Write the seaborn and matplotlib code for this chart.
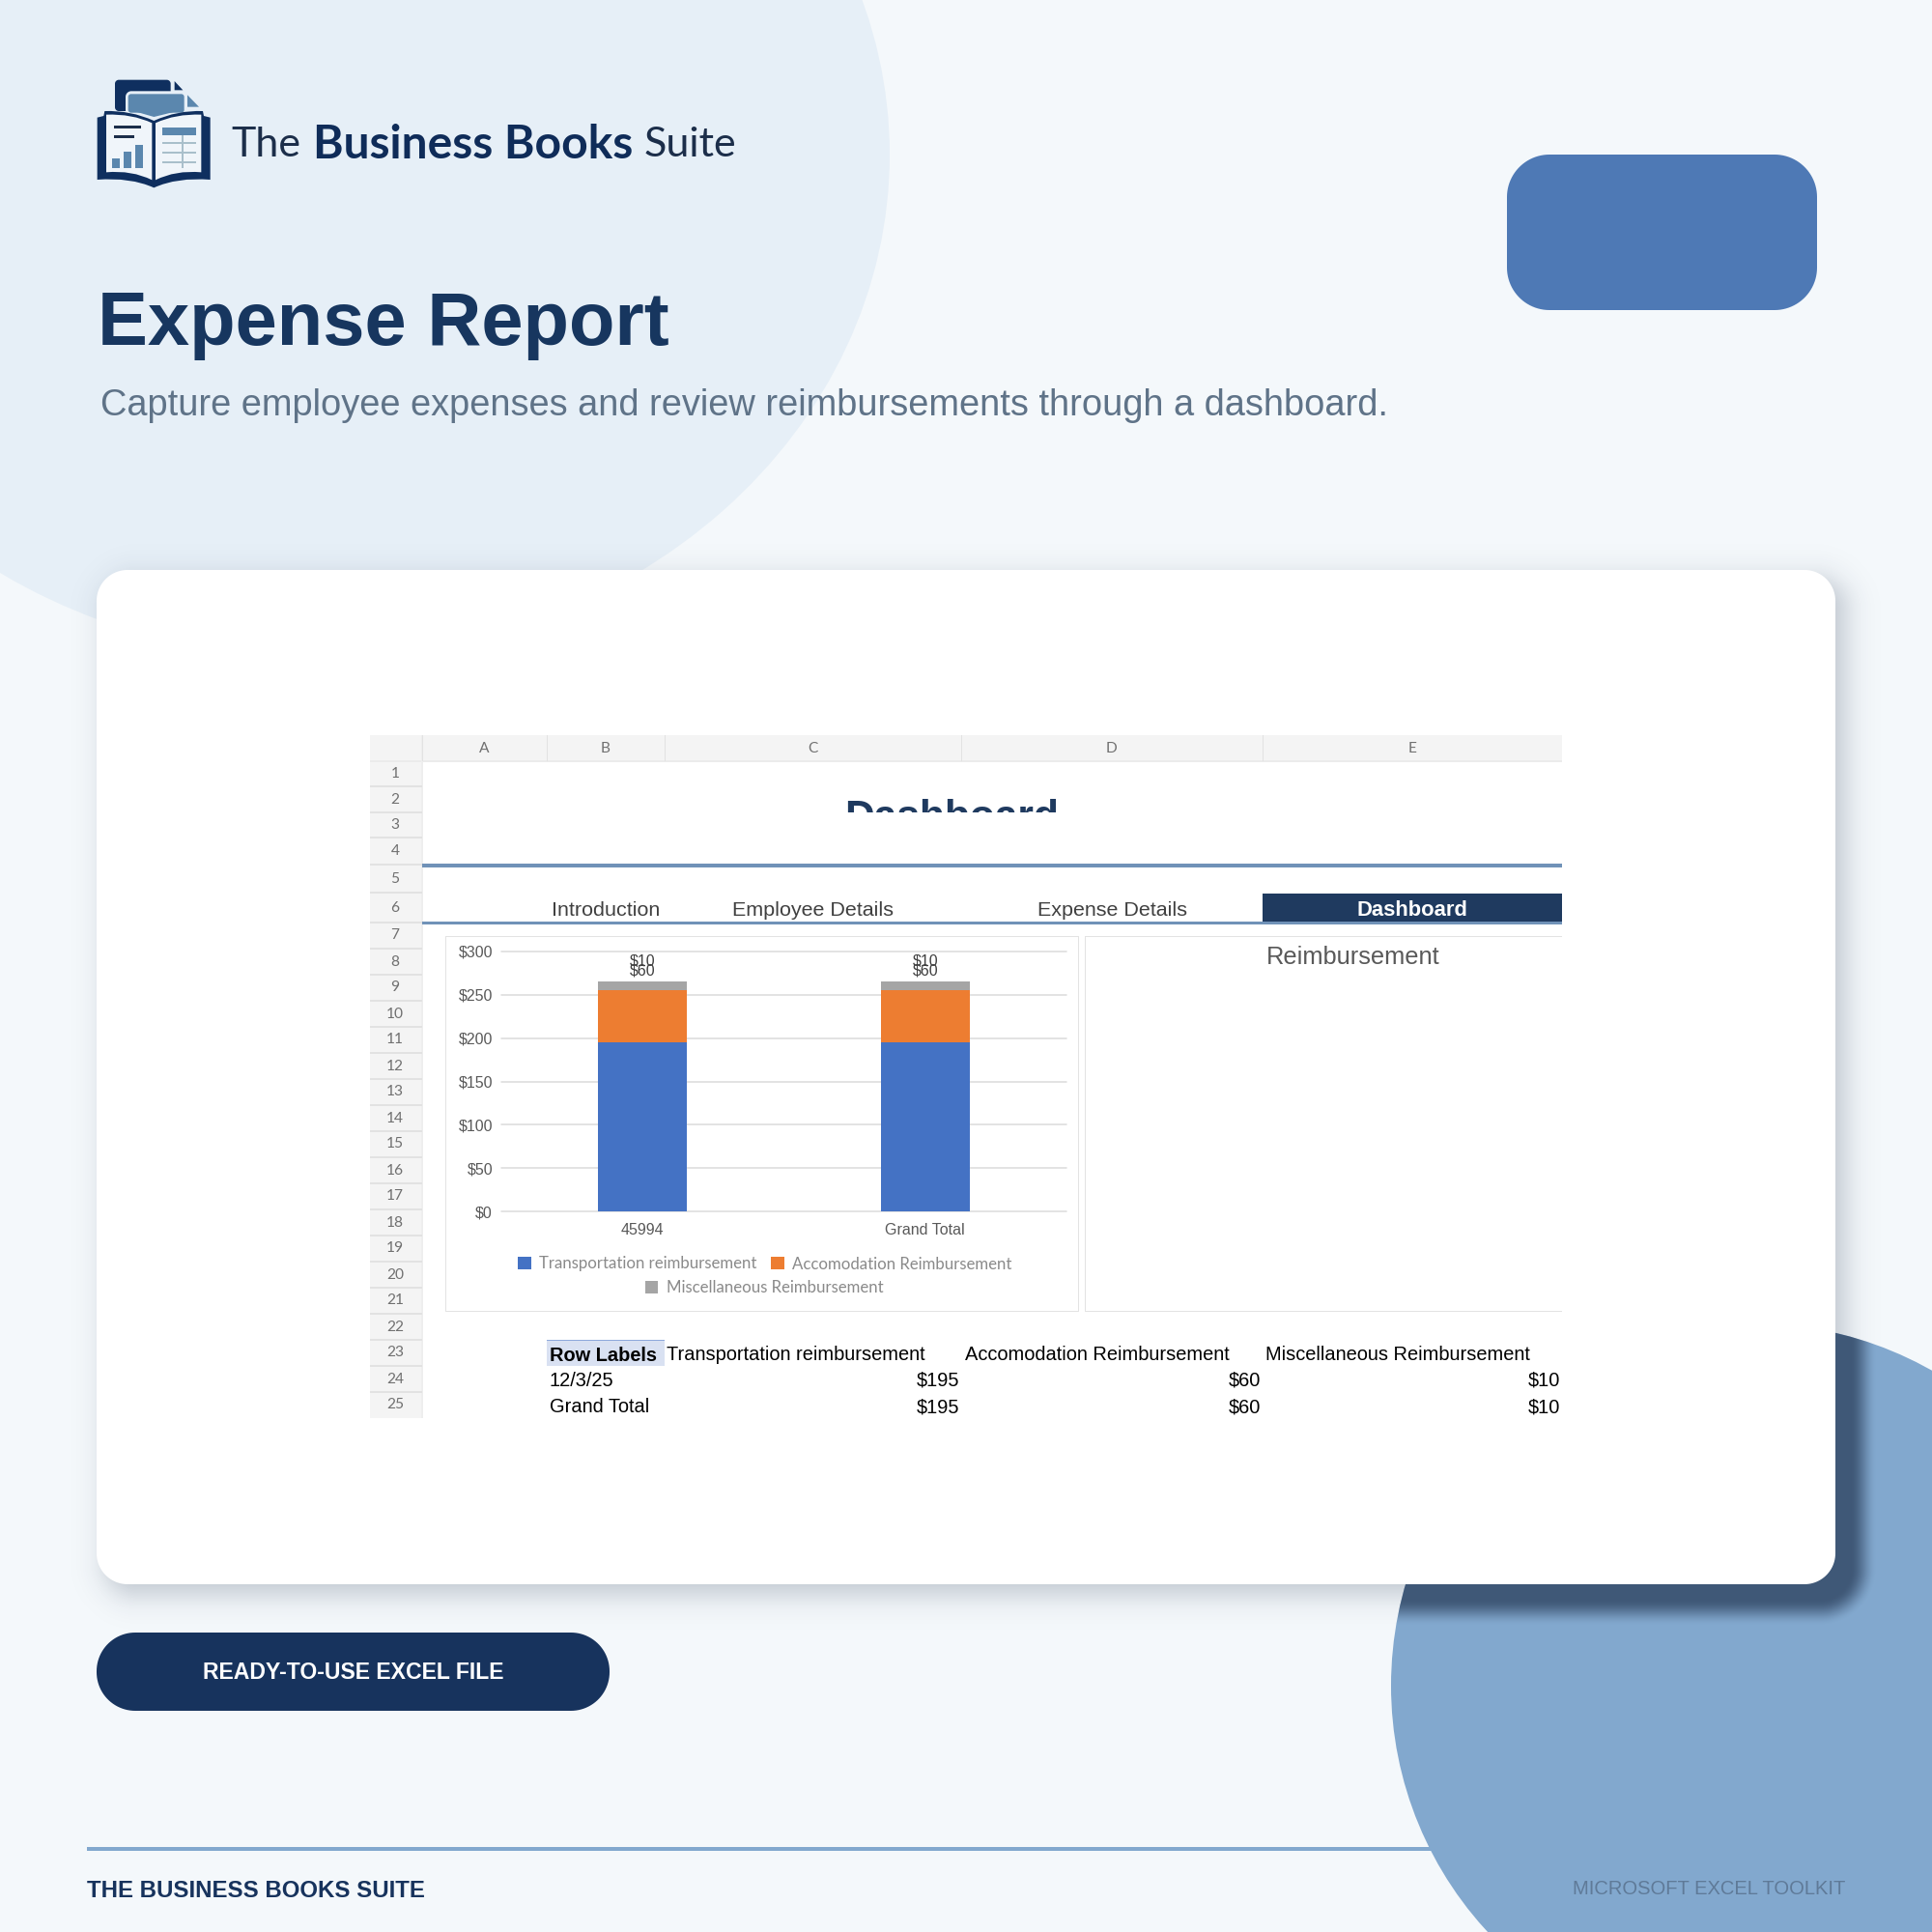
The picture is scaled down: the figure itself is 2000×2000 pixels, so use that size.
import numpy as np
import matplotlib
matplotlib.use('Agg')
import matplotlib.pyplot as plt
import seaborn as sns
from matplotlib.font_manager import FontProperties
from matplotlib.patches import Circle, Ellipse, PathPatch, Polygon, Rectangle
from matplotlib.path import Path

# chart values
categories = ['45994', 'Grand Total']
transport = [195, 195]
accomodation = [60, 60]
miscellaneous = [10, 10]
series_names = ['Transportation reimbursement', 'Accomodation Reimbursement', 'Miscellaneous Reimbursement']
series_colors = ['#4472C4', '#ED7D31', '#A5A5A5']
y_ticks = [0, 50, 100, 150, 200, 250, 300]

# spreadsheet texts
column_letters = ['A', 'B', 'C', 'D', 'E']
column_edges = [437, 566, 688, 995, 1307, 1617]
row_edges = [788, 814, 841, 867, 895, 924, 955, 982, 1009, 1036, 1063, 1090, 1117,
             1144, 1171, 1198, 1225, 1252, 1279, 1306, 1333, 1360, 1387, 1414, 1441, 1468]
nav_labels = ['Introduction', 'Employee Details', 'Expense Details']
table_rows = ['12/3/25', 'Grand Total']

NAVY = '#17335D'
SHEET_LINE = '#E2E2E2'
DPI = 200


def fs(px):
    # font size in points from a height in pixels
    return px * 72 / DPI


def box(x0, y0, x1, y1, color, z=5):
    canvas.add_patch(Rectangle((x0, y0), x1 - x0, y1 - y0, fc=color, ec='none', zorder=z))


def rounded(x0, y0, x1, y1, r, color, z=5):
    # true circular corners, FancyBboxPatch corners come out too square
    pts = []
    corners = [(x1 - r, y0 + r, -90), (x1 - r, y1 - r, 0), (x0 + r, y1 - r, 90), (x0 + r, y0 + r, 180)]
    for cx, cy, start in corners:
        t = np.radians(np.linspace(start, start + 90, 24))
        pts += list(zip(cx + r * np.cos(t), cy + r * np.sin(t)))
    canvas.add_patch(Polygon(pts, closed=True, fc=color, ec='none', zorder=z))


def label(x, y, s, px, color, family='Liberation Sans', weight='normal', ha='left', va='baseline', z=8):
    return canvas.text(x, y, s, fontsize=fs(px), color=color, family=family, weight=weight, ha=ha, va=va, zorder=z)


def rect_distance(xx, yy, x0, y0, x1, y1, r):
    qx = np.abs(xx - (x0 + x1) / 2) - (x1 - x0) / 2 + r
    qy = np.abs(yy - (y0 + y1) / 2) - (y1 - y0) / 2 + r
    outside = np.hypot(np.maximum(qx, 0), np.maximum(qy, 0))
    return outside + np.minimum(np.maximum(qx, qy), 0) - r


def shadow_image(alpha, z):
    img = np.zeros(alpha.shape + (4,))
    img[..., :3] = np.array([26, 43, 70]) / 255
    img[..., 3] = alpha
    return canvas.imshow(img, extent=(0, 2000, 2000, 0), aspect='auto', zorder=z, interpolation='nearest')


def draw_logo():
    def sx(v):
        return 80 + v / 3

    def sy(v):
        return 70 + v / 3

    def poly(pts, color, z=3):
        canvas.add_patch(Polygon([(sx(a), sy(b)) for a, b in pts], closed=True, fc=color, ec='none', zorder=z))

    def shape(verts, codes, color):
        path = Path([(sx(a), sy(b)) for a, b in verts], codes)
        canvas.add_patch(PathPatch(path, fc=color, ec='none', zorder=3))

    M, L, C, Z = Path.MOVETO, Path.LINETO, Path.CURVE3, Path.CLOSEPOLY
    dark = '#0F2F5F'
    mid = '#5B87AE'
    light = '#E6EFF7'
    rounded(sx(117), sy(38), sx(290), sy(135), 4, dark, 3)
    poly([(302, 42), (328, 70), (302, 70)], dark)
    rounded(sx(150), sy(73), sx(340), sy(150), 6, light, 3)
    rounded(sx(158), sy(82), sx(332), sy(140), 3, mid, 3)
    poly([(158, 130), (332, 130), (238, 153)], mid)
    poly([(342, 85), (378, 122), (342, 122)], mid)
    # book covers and pages
    shape([(62, 155), (82, 150), (85, 135), (165, 132), (238, 165), (310, 132), (390, 135), (393, 150), (413, 155),
           (413, 348), (310, 340), (238, 373), (165, 340), (62, 348), (62, 155)],
          [M, L, L, C, C, C, C, L, L, L, C, C, C, C, Z], dark)
    shape([(90, 146), (170, 143), (232, 172), (232, 349), (170, 318), (90, 325), (90, 146)],
          [M, C, C, L, C, C, Z], '#F0F5FA')
    shape([(243, 172), (305, 143), (385, 146), (385, 325), (305, 318), (243, 349), (243, 172)],
          [M, C, C, L, C, C, Z], '#F0F5FA')
    # page contents
    for x0, x1, y0, y1, c in [(113, 197, 181, 190, '#1C2E4A'), (113, 177, 210, 219, '#1C2E4A'),
                              (108, 133, 282, 312, mid), (145, 167, 262, 312, mid), (181, 204, 240, 312, mid),
                              (264, 368, 185, 209, mid), (264, 368, 232, 238, '#A9BFCB'),
                              (264, 368, 262, 268, '#A9BFCB'), (264, 368, 292, 298, '#A9BFCB'),
                              (325, 330, 209, 313, '#A9BFCB')]:
        box(sx(x0), sy(y0), sx(x1), sy(y1), c, 4)
    label(239, 162, 'The', 43, '#1C2E4A', 'Lato')
    label(324, 163.5, 'Business Books', 48, '#0F2C59', 'Lato', 'bold')
    label(667, 162, 'Suite', 43, '#1C2E4A', 'Lato')


sns.set_theme(style='whitegrid')
plt.rcParams['font.family'] = ['Liberation Sans', 'DejaVu Sans']

fig = plt.figure(figsize=(10, 10), dpi=DPI, facecolor='#F4F8FB')
canvas = fig.add_axes([0, 0, 1, 1])
canvas.set_axis_off()

# background shapes and the card shadow
yy, xx = np.mgrid[0:2000, 0:2000] + 0.5
canvas.add_patch(Ellipse((330, 160), 1182, 1044, fc='#E6EFF7', ec='none', zorder=1))
soft = 0.25 / (1 + np.exp(np.clip(rect_distance(xx, yy, 110, 600, 1910, 1650, 32) / 9, -50, 50)))
shadow_image(soft, 1.5)
blue = Circle((1815, 1745), 375, fc='#82A8CE', ec='none', zorder=2)
box(90, 1912, 1700, 1916, '#82A8CE', 1.8)
canvas.add_patch(blue)
fade = np.clip(rect_distance(xx, yy, 116, 606, 1916, 1656, 32) / 27, 0, 1)
deep = shadow_image(0.64 * (1 - fade * fade * (3 - 2 * fade)), 2.5)
deep.set_clip_path(blue)

rounded(1560, 160, 1881, 321, 44, '#4E79B5', 3)
rounded(100, 590, 1900, 1640, 32, 'white', 3)
rounded(100, 1690, 631, 1771, 40, NAVY, 3)

draw_logo()
label(101, 357, 'Expense Report', 77.7, '#17365F', weight='bold')
label(104, 430, 'Capture employee expenses and review reimbursements through a dashboard.', 38, '#5F7388')
label(366, 1738.5, 'READY-TO-USE EXCEL FILE', 23, 'white', weight='bold', ha='center')
label(90, 1964, 'THE BUSINESS BOOKS SUITE', 24, NAVY, weight='bold')
label(1910, 1961, 'MICROSOFT EXCEL TOOLKIT', 20.2, '#5F7A98', ha='right')

# spreadsheet headers
box(383, 761, 1617, 788, '#F4F4F4')
box(383, 788, 437, row_edges[-1], '#F4F4F4')
box(383, 787, 1617, 789, '#EBEBEB', 6)
box(436, 761, 438, row_edges[-1], '#EEEEEE', 6)
for i, letter in enumerate(column_letters):
    box(column_edges[i] - 0.5, 761, column_edges[i] + 0.5, 788, SHEET_LINE, 6)
    label((column_edges[i] + column_edges[i + 1]) / 2, 775, letter, 15.5, '#707070', 'Lato', ha='center', va='center')
for i in range(len(row_edges) - 1):
    if i < len(row_edges) - 2:
        box(383, row_edges[i + 1] - 0.75, 437, row_edges[i + 1] + 0.75, SHEET_LINE, 6)
    label(409, (row_edges[i] + row_edges[i + 1]) / 2, str(i + 1), 15.5, '#707070', 'Lato', ha='center', va='center')

# sheet title is cut off by its row, as in the original screenshot
title = label(985, 858, 'Dashboard', 42.5, '#1F3A5F', weight='bold', ha='center')
title.set_clip_on(True)
title.set_clip_path(Rectangle((437, 788), 1180, 53, transform=canvas.transData))

box(437, 894, 1617, 898, '#7092B8', 6)
box(1307, 925, 1617, 954, '#1F3A5F', 6)
box(437, 954, 1617, 957, '#7092B8', 6)
for i, name in enumerate(nav_labels):
    label((column_edges[i + 1] + column_edges[i + 2]) / 2, 948, name, 21.5, '#404040', ha='center')
label(1462, 948, 'Dashboard', 22, 'white', weight='bold', ha='center')

# chart frames
for x0, y0, x1, y1 in [(461, 969, 1117, 970), (461, 1357, 1117, 1358), (461, 969, 462, 1358), (1116, 969, 1117, 1358),
                       (1123, 969, 1617, 970), (1123, 1357, 1617, 1358), (1123, 969, 1124, 1358)]:
    box(x0, y0, x1, y1, '#E3E3E3', 6)
label(1311, 998, 'Reimbursement', 25.4, '#595959')

# pivot table under the charts
box(566, 1387, 688, 1414, '#D9E1F2')
box(566, 1386.5, 688, 1388, '#8EA9DB', 6)
label(569, 1409, 'Row Labels', 20, 'black', weight='bold')
header_x = [690, 999, 1310]
value_x = [993, 1305, 1615]
all_series = [transport, accomodation, miscellaneous]
for s in range(3):
    label(header_x[s], 1408, series_names[s], 20, 'black')
    for r in range(2):
        label(value_x[s], 1435 + 27 * r, f'${all_series[s][r]}', 20, 'black', ha='right')
for r in range(2):
    label(569, 1435 + 27 * r, table_rows[r], 20, 'black')

canvas.set_xlim(0, 2000)
canvas.set_ylim(2000, 0)

# stacked column chart
ax = fig.add_axes([519 / 2000, 1 - 1254 / 2000, 585 / 2000, 269 / 2000], zorder=5)
ax.patch.set_alpha(0)
bottom = np.zeros(len(categories))
for values, name, color in zip(all_series, series_names, series_colors):
    sns.barplot(x=categories, y=values, color=color, saturation=1, width=0.315, bottom=bottom,
                errorbar=None, label=name, linewidth=0, edgecolor='none', ax=ax)
    bottom = bottom + np.array(values)

ax.set_xlim(-0.5, 1.5)
ax.set_ylim(0, 300)
ax.set_yticks(y_ticks)
ax.set_yticklabels([f'${v}' for v in y_ticks])
ax.tick_params(axis='y', length=0, pad=fs(9), labelsize=fs(16), labelcolor='#595959')
ax.tick_params(axis='x', length=0, pad=fs(12), labelsize=fs(16), labelcolor='#595959')
ax.xaxis.grid(False)
ax.yaxis.grid(True, color='#DDDDDD', linewidth=fs(1.6))
ax.set_axisbelow(True)
for spine in ax.spines.values():
    spine.set_visible(False)
for tick in ax.yaxis.get_gridlines():
    tick.set_clip_on(False)

# both data labels end up above the stack and overlap
for i in range(len(categories)):
    ax.annotate(f'${miscellaneous[i]}', xy=(i, bottom[i]), xytext=(0, fs(21)), textcoords='offset points',
                ha='center', va='center', fontsize=fs(16), color='#404040')
    ax.annotate(f'${accomodation[i]}', xy=(i, bottom[i]), xytext=(0, fs(11)), textcoords='offset points',
                ha='center', va='center', fontsize=fs(16), color='#404040')

handles, names = ax.get_legend_handles_labels()
prop = FontProperties(family='Lato', size=fs(16.8))
legend_kw = dict(loc='center', bbox_transform=canvas.transData, frameon=False, prop=prop,
                 labelcolor='#8A8A8A', handlelength=0.8, handleheight=0.8, handletextpad=0.5,
                 columnspacing=0.88, borderpad=0, borderaxespad=0)
first = ax.legend(handles[:2], names[:2], ncol=2, bbox_to_anchor=(792, 1308.5), **legend_kw)
ax.add_artist(first)
ax.legend(handles[2:], names[2:], ncol=1, bbox_to_anchor=(791, 1333), **legend_kw)

fig.savefig('out.png', dpi=DPI, facecolor=fig.get_facecolor())
